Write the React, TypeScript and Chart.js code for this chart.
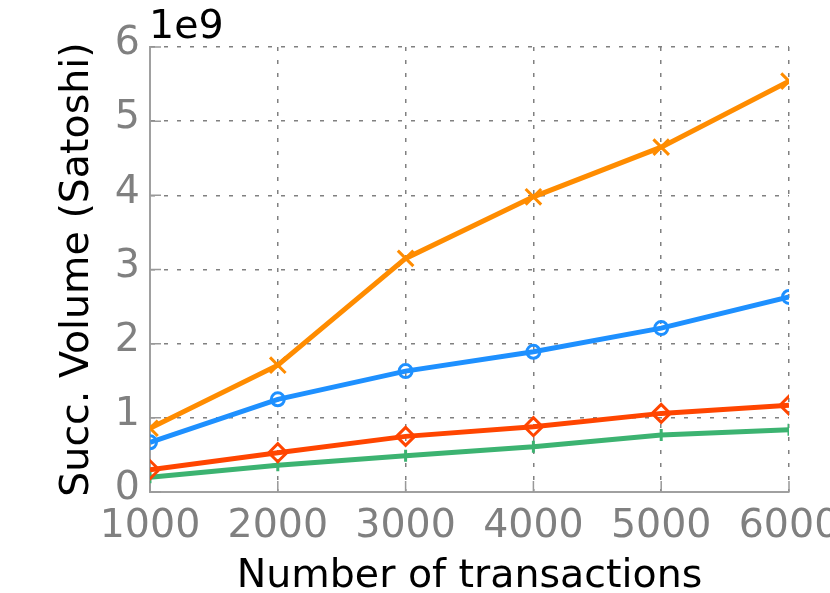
import React, { useEffect, useRef } from 'react';
import { Chart, registerables } from 'chart.js';

Chart.register(...registerables);

// number of transactions on the x axis
const txCounts = [1000, 2000, 3000, 4000, 5000, 6000];
// succeeded volume in satoshi, one list per curve
const volumeCross = [0.86e9, 1.71e9, 3.15e9, 3.98e9, 4.65e9, 5.54e9];
const volumeCircle = [0.67e9, 1.25e9, 1.63e9, 1.89e9, 2.21e9, 2.63e9];
const volumeDiamond = [0.3e9, 0.53e9, 0.75e9, 0.88e9, 1.06e9, 1.17e9];
const volumePlus = [0.2e9, 0.36e9, 0.49e9, 0.61e9, 0.77e9, 0.84e9];
const yTicks = [0, 1e9, 2e9, 3e9, 4e9, 5e9, 6e9];

const FONT = '"DejaVu Sans", sans-serif';
const FONT_SIZE = 39.5;
const GREY = '#808080';

const toPoints = (ys: number[]) => ys.map((y, i) => ({ x: txCounts[i], y }));

// matplotlib style ticks pointing into the plot, plus the offset text
const extrasPlugin = {
  id: 'extras',
  beforeDatasetsDraw(chart: any) {
    const { ctx, chartArea, scales } = chart;
    ctx.save();
    ctx.strokeStyle = '#999999';
    ctx.lineWidth = 1.5;
    ctx.beginPath();
    txCounts.forEach((t) => {
      const px = scales.x.getPixelForValue(t);
      ctx.moveTo(px, chartArea.bottom);
      ctx.lineTo(px, chartArea.bottom - 11);
    });
    yTicks.forEach((t) => {
      const py = scales.y.getPixelForValue(t);
      ctx.moveTo(chartArea.left, py);
      ctx.lineTo(chartArea.left + 11, py);
    });
    ctx.stroke();
    ctx.restore();
  },
  afterDraw(chart: any) {
    const { ctx, chartArea } = chart;
    ctx.save();
    ctx.fillStyle = '#000';
    ctx.font = `${FONT_SIZE}px ${FONT}`;
    ctx.textBaseline = 'alphabetic';
    ctx.textAlign = 'left';
    ctx.fillText('1e9', chartArea.left - 1, 38);
    ctx.restore();
  },
};

const App: React.FC = () => {
  const canvasRef = useRef<HTMLCanvasElement>(null);
  const chartRef = useRef<Chart | null>(null);

  useEffect(() => {
    document.body.style.margin = '0';
    if (!canvasRef.current) return;
    const ctx = canvasRef.current.getContext('2d');
    if (!ctx) return;
    if (chartRef.current) chartRef.current.destroy();

    const line = (label: string, data: number[], color: string, style: string, r: number) => ({
      label,
      data: toPoints(data),
      borderColor: color,
      backgroundColor: 'transparent',
      borderWidth: 5,
      pointStyle: style,
      pointRadius: r,
      pointBorderWidth: 3,
      pointBorderColor: color,
      pointBackgroundColor: 'transparent',
      clip: 0,
    });

    chartRef.current = new Chart(ctx, {
      type: 'line',
      data: {
        datasets: [
          line('x', volumeCross, '#ff8c00', 'crossRot', 11),
          line('o', volumeCircle, '#1e90ff', 'circle', 6.5),
          line('d', volumeDiamond, '#ff4500', 'rectRot', 9),
          line('+', volumePlus, '#3cb371', 'cross', 6),
        ] as any,
      },
      options: {
        animation: false,
        responsive: false,
        devicePixelRatio: 1,
        layout: { padding: { top: 47, right: 41, bottom: 0, left: 0 } },
        plugins: { legend: { display: false }, tooltip: { enabled: false } },
        scales: {
          x: {
            type: 'linear',
            min: 1000,
            max: 6000,
            afterFit: (s: any) => {
              s.height = 101;
              s.paddingLeft = 0;
              s.paddingRight = 0;
            },
            afterBuildTicks: (s: any) => {
              s.ticks = txCounts.map((v) => ({ value: v }));
            },
            ticks: {
              color: GREY,
              font: { family: FONT, size: FONT_SIZE },
              padding: 11,
              maxRotation: 0,
              autoSkip: false,
              callback: (v: any) => String(v),
            },
            grid: { color: GREY, lineWidth: 1.5, drawTicks: false },
            border: { display: true, color: '#a0a0a0', width: 2, dash: [4, 9] },
            title: {
              display: true,
              text: 'Number of transactions',
              color: '#000',
              font: { family: FONT, size: FONT_SIZE, lineHeight: 0.8 },
              padding: { top: 0, bottom: 0 },
            },
          },
          y: {
            min: 0,
            max: 6e9,
            afterFit: (s: any) => {
              s.width = 150;
              s.paddingTop = 0;
              s.paddingBottom = 0;
            },
            afterBuildTicks: (s: any) => {
              s.ticks = yTicks.map((v) => ({ value: v }));
            },
            ticks: {
              color: GREY,
              font: { family: FONT, size: FONT_SIZE },
              padding: 10,
              labelOffset: -3,
              callback: (v: any) => String(Number(v) / 1e9),
            },
            grid: { color: GREY, lineWidth: 1.5, drawTicks: false },
            border: { display: true, color: '#a0a0a0', width: 2, dash: [4, 9] },
            title: {
              display: true,
              text: 'Succ. Volume (Satoshi)',
              color: '#000',
              font: { family: FONT, size: FONT_SIZE, lineHeight: 0.8 },
              padding: { top: 62, bottom: 0 },
            },
          },
        },
      },
      plugins: [extrasPlugin],
    });

    return () => {
      if (chartRef.current) {
        chartRef.current.destroy();
        chartRef.current = null;
      }
    };
  }, []);

  return (
    <div style={{ width: 830, height: 593 }}>
      <canvas ref={canvasRef} width={830} height={593}></canvas>
    </div>
  );
};

export default App;
